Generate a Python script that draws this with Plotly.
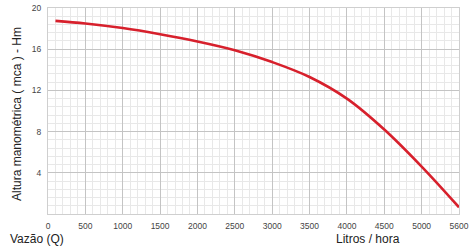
import plotly.graph_objects as go

# Data
flow_lph = [100, 500, 1000, 1500, 2000, 2500, 3000, 3500, 4000, 4500, 5000, 5500]
head_m = [18.75, 18.5, 18.05, 17.45, 16.75, 15.9, 14.75, 13.3, 11.2, 8.2, 4.6, 0.65]

x_tickvals = [0, 500, 1000, 1500, 2000, 2500, 3000, 3500, 4000, 4500, 5000, 5500]
x_ticktext = ["0", "500", "1000", "1500", "2000", "2500", "3000", "3500", "4000", "4500", "5000", "5600"]
y_tickvals = [4, 8, 12, 16, 20]

W, H = 470, 246
ML, MR, MT, MB = 48, 11, 8, 32
PW, PH = W - ML - MR, H - MT - MB


def px_x(x):
    return (x - ML) / PW


def px_y(y):
    return (H - MB - y) / PH


fig = go.Figure()
fig.add_trace(go.Scatter(
    x=flow_lph, y=head_m, mode="lines",
    line=dict(color="#d7202c", width=2.6, shape="spline", smoothing=1.0),
    hoverinfo="skip", showlegend=False,
))

font_family = "Liberation Sans, Arial, sans-serif"

fig.update_layout(
    width=W, height=H, autosize=False,
    margin=dict(l=ML, r=MR, t=MT, b=MB, pad=0),
    paper_bgcolor="white", plot_bgcolor="white",
    font=dict(family=font_family, color="#333"),
    xaxis=dict(
        range=[0, 5500], tickmode="array", tickvals=x_tickvals, ticktext=x_ticktext,
        showgrid=True, gridcolor="#c4c4c4", gridwidth=1, automargin=False,
        tickfont=dict(size=8.5, color="#444"), ticks="outside", ticklen=4, tickcolor="white",
        showline=True, linecolor="#cfcfcf", mirror=True, zeroline=False,
        minor=dict(tick0=0, dtick=100, showgrid=True, gridcolor="#e8e8e8", gridwidth=1),
        fixedrange=True,
    ),
    yaxis=dict(
        range=[0, 20], tickmode="array", tickvals=y_tickvals,
        showgrid=True, gridcolor="#c4c4c4", gridwidth=1, automargin=False,
        tickfont=dict(size=8.5, color="#444"), ticks="outside", ticklen=4, tickcolor="white",
        showline=True, linecolor="#cfcfcf", mirror=True, zeroline=False,
        minor=dict(tick0=0, dtick=0.8, showgrid=True, gridcolor="#e8e8e8", gridwidth=1),
        fixedrange=True,
    ),
    annotations=[
        dict(text="Altura manométrica ( mca ) - Hm", x=px_x(17), y=px_y(114),
             xref="paper", yref="paper", showarrow=False, textangle=-90,
             font=dict(size=12, color="#222"), xanchor="center", yanchor="middle"),
        dict(text="Vazão (Q)", x=px_x(8), y=px_y(239), xref="paper", yref="paper", showarrow=False,
             font=dict(size=12, color="#222"), xanchor="left", yanchor="middle"),
        dict(text="Litros / hora", x=px_x(334), y=px_y(239), xref="paper", yref="paper", showarrow=False,
             font=dict(size=12, color="#222"), xanchor="left", yanchor="middle"),
    ],
)

fig.write_html(
    "out.html",
    config={"displayModeBar": False, "staticPlot": True},
    post_script="document.body.style.margin='0';document.body.style.overflow='hidden';",
)
